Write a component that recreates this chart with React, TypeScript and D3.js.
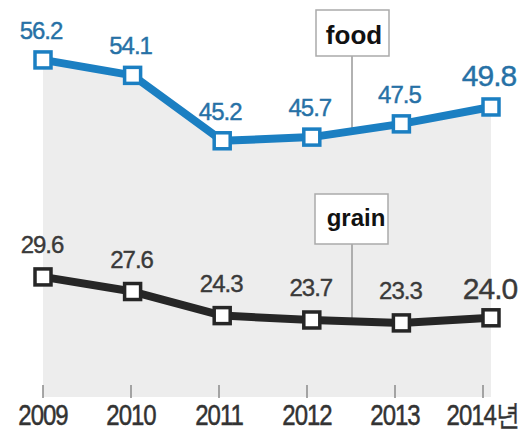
import React from "react";
import * as d3 from "d3";

const years = ["2009", "2010", "2011", "2012", "2013", "2014"];
const yearLabels = ["2009", "2010", "2011", "2012", "2013", "2014년"];
const foodValues = [56.2, 54.1, 45.2, 45.7, 47.5, 49.8];
const grainValues = [29.6, 27.6, 24.3, 23.7, 23.3, 24.0];
const foodName = "food";
const grainName = "grain";

const W = 531;
const H = 431;

export default function App() {
  const xPoint = d3.scalePoint<string>().domain(years).range([43, 491]);
  const xAxis = d3.scalePoint<string>().domain(years).range([43, 483]);
  const yFood = d3.scaleLinear().domain([40, 60]).range([179, 32]);
  const yGrain = d3.scaleLinear().domain([20, 30]).range([347, 274]);
  const bottom = 397;

  const foodPts: [number, number][] = years.map((y, i) => [xPoint(y)!, yFood(foodValues[i])]);
  const grainPts: [number, number][] = years.map((y, i) => [xPoint(y)!, yGrain(grainValues[i])]);

  const line = d3.line<[number, number]>().x(d => d[0]).y(d => d[1]);
  const area = d3.area<[number, number]>().x(d => d[0]).y0(bottom).y1(d => d[1]);

  const interp = (pts: [number, number][], x: number) => {
    for (let i = 0; i < pts.length - 1; i++) {
      if (x >= pts[i][0] && x <= pts[i + 1][0]) {
        const t = (x - pts[i][0]) / (pts[i + 1][0] - pts[i][0]);
        return pts[i][1] + t * (pts[i + 1][1] - pts[i][1]);
      }
    }
    return pts[0][1];
  };

  const legendX = 352;
  const foodBlue = "#1b7fc2";
  const foodText = "#2771a6";
  const grainColor = "#262626";

  return (
    <svg width={W} height={H} style={{ position: "absolute", left: 0, top: 0, background: "#fff" }}
      fontFamily="'Liberation Sans', Arial, sans-serif">
      <path d={area(foodPts)!} fill="#ededed" />
      {/* ticks */}
      {years.map(y => (
        <line key={y} x1={xAxis(y)} x2={xAxis(y)} y1={385} y2={398} stroke="#8a8a8a" strokeWidth={1.5} />
      ))}
      {years.map((y, i) => (
        <text key={y} x={xAxis(y)} y={0} textAnchor="middle" fontSize={24} fill="#333"
          stroke="#333" strokeWidth={0.4}
          letterSpacing={-1} transform={`translate(0,425) scale(1,1.2)`}>
          {yearLabels[i]}
        </text>
      ))}
      {/* legend pointers */}
      <line x1={legendX} x2={legendX} y1={56} y2={interp(foodPts, legendX)} stroke="#999" strokeWidth={1.5} />
      <line x1={legendX} x2={legendX} y1={244} y2={interp(grainPts, legendX)} stroke="#999" strokeWidth={1.5} />
      <rect x={316} y={10} width={73} height={46} fill="#fff" stroke="#aaa" strokeWidth={1.5} />
      <text x={354} y={44} textAnchor="middle" fontSize={26} fontWeight="bold" fill="#111">{foodName}</text>
      <rect x={315} y={194} width={73} height={50} fill="#fff" stroke="#aaa" strokeWidth={1.5} />
      <text x={356} y={226} textAnchor="middle" fontSize={24} fontWeight="bold" fill="#111">{grainName}</text>
      {/* lines */}
      <path d={line(foodPts)!} fill="none" stroke={foodBlue} strokeWidth={8} strokeLinejoin="round" />
      <path d={line(grainPts)!} fill="none" stroke={grainColor} strokeWidth={8} strokeLinejoin="round" />
      {foodPts.map((p, i) => (
        <rect key={"f" + i} x={p[0] - 8} y={p[1] - 8} width={16} height={16} fill="#fff" stroke={foodBlue} strokeWidth={3.5} />
      ))}
      {grainPts.map((p, i) => (
        <rect key={"g" + i} x={p[0] - 8} y={p[1] - 8} width={16} height={16} fill="#fff" stroke={grainColor} strokeWidth={3.5} />
      ))}
      {foodPts.map((p, i) => {
        const last = i === foodPts.length - 1;
        return (
          <text key={"fl" + i} x={p[0] - 2} y={p[1] - 21} textAnchor="middle" fontSize={last ? 30 : 24}
            letterSpacing={-1} fill={foodText} stroke={foodText} strokeWidth={0.4}>
            {foodValues[i].toFixed(1)}
          </text>
        );
      })}
      {grainPts.map((p, i) => {
        const last = i === grainPts.length - 1;
        return (
          <text key={"gl" + i} x={p[0] - 1} y={p[1] - (last ? 19 : 24)} textAnchor="middle" fontSize={last ? 30 : 24}
            letterSpacing={-1} fill="#3a3a3a" stroke="#3a3a3a" strokeWidth={0.4}>
            {grainValues[i].toFixed(1)}
          </text>
        );
      })}
    </svg>
  );
}
